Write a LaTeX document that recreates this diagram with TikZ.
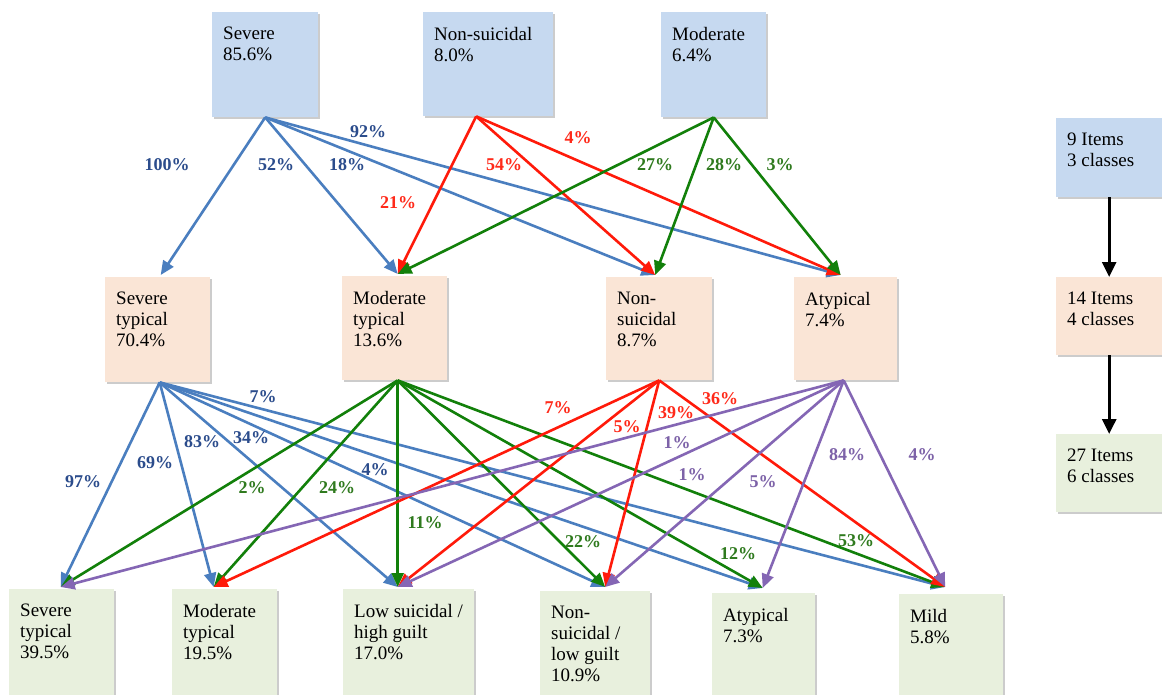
\documentclass[tikz,border=0pt]{standalone}
\usepackage{fontspec}
\setmainfont{Liberation Serif}
\usetikzlibrary{arrows.meta,shadows}
\definecolor{topfill}{HTML}{C6D9F0}
\definecolor{midfill}{HTML}{FAE5D6}
\definecolor{botfill}{HTML}{E8F0DD}
\definecolor{cblue}{HTML}{4A7EBF}
\definecolor{cred}{HTML}{FF1A0A}
\definecolor{cgreen}{HTML}{12800A}
\definecolor{cpurple}{HTML}{8466B4}
\definecolor{lblue}{HTML}{2B4C8C}
\definecolor{lred}{HTML}{FF2A1A}
\definecolor{lgreen}{HTML}{2F7A1E}
\definecolor{lpurple}{HTML}{7D62A8}
\newcommand\cbox[7]{%
  \node[box, fill=#2, minimum width=#5pt, minimum height=#6pt] (#1) at (#3,#4) {};
  \node[txt] (#1t) at ([xshift=11pt,yshift=-15pt]#1.north west) {#7};
}
\begin{document}
\begin{tikzpicture}[x=1pt,y=-1pt,
  box/.style={draw=none, inner sep=0, anchor=north west,
    drop shadow={shadow xshift=2pt, shadow yshift=-2pt, opacity=0.4}},
  txt/.style={inner sep=0, anchor=north west, align=left,
    font=\fontsize{19}{21}\selectfont},
  pct/.style={inner sep=0, font=\fontsize{18}{20}\selectfont\bfseries},
  link/.style={line width=2.6pt, -{Triangle[length=14pt,width=12pt]}},
  legarrow/.style={line width=2.8pt, black, -{Triangle[length=15pt,width=14pt]}}]
\fill[white] (0,0) rectangle (1162,695);
\useasboundingbox (0,0) rectangle (1162,695);

% top row
\cbox{T1}{topfill}{212}{12}{106}{105}{Severe\\85.6\%}
\cbox{T2}{topfill}{423}{12}{130}{104}{Non-suicidal\\8.0\%}
\cbox{T3}{topfill}{661}{12}{105}{105}{Moderate\\6.4\%}
% middle row
\cbox{M1}{midfill}{105}{277}{105}{105}{Severe\\typical\\70.4\%}
\cbox{M2}{midfill}{342}{276}{105}{104}{Moderate\\typical\\13.6\%}
\cbox{M3}{midfill}{606}{277}{106}{103}{Non-\\suicidal\\8.7\%}
\cbox{M4}{midfill}{794}{277}{103}{103}{Atypical\\7.4\%}
% bottom row
\cbox{B1}{botfill}{9}{589}{105}{120}{Severe\\typical\\39.5\%}
\cbox{B2}{botfill}{172}{589}{105}{120}{Moderate\\typical\\19.5\%}
\cbox{B3}{botfill}{343}{589}{131}{120}{Low suicidal /\\high guilt\\17.0\%}
\cbox{B4}{botfill}{540}{591}{110}{120}{Non-\\suicidal /\\low guilt\\10.9\%}
\cbox{B5}{botfill}{712}{593}{103}{120}{Atypical\\7.3\%}
\cbox{B6}{botfill}{899}{594}{104}{120}{Mild\\5.8\%}
% legend
\cbox{G1}{topfill}{1056}{118}{106}{79}{9 Items\\3 classes}
\cbox{G2}{midfill}{1056}{277}{106}{78}{14 Items\\4 classes}
\cbox{G3}{botfill}{1056}{434}{106}{78}{27 Items\\6 classes}
\draw[legarrow] (G1.south) -- (G2.north);
\draw[legarrow] (G2.south) -- (G3.north);

% connector end points
\coordinate (T1o) at (T1.south);
\coordinate (T2o) at ([xshift=-12pt]T2.south);
\coordinate (T3o) at (T3.south);
\coordinate (M1i) at ([xshift=3pt,yshift=2pt]M1.north);
\coordinate (M2i) at ([xshift=3pt,yshift=2pt]M2.north);
\coordinate (M3i) at ([xshift=-4pt,yshift=2pt]M3.north);
\coordinate (M4i) at ([xshift=-5pt,yshift=2pt]M4.north);
\coordinate (M1o) at ([xshift=2pt]M1.south);
\coordinate (M2o) at ([xshift=3pt]M2.south);
\coordinate (M3o) at (M3.south);
\coordinate (M4o) at ([xshift=-2pt]M4.south);
\coordinate (B1i) at ([xshift=-1pt,yshift=2pt]B1.north);
\coordinate (B2i) at ([xshift=-11pt,yshift=2pt]B2.north);
\coordinate (B3i) at ([xshift=-11pt,yshift=2pt]B3.north);
\coordinate (B4i) at ([xshift=10pt,yshift=4pt]B4.north);
\coordinate (B5i) at ([xshift=-1pt,yshift=5pt]B5.north);
\coordinate (B6i) at ([xshift=-6pt,yshift=7pt]B6.north);

% top -> middle
\foreach \t in {M1i,M2i,M3i,M4i} \draw[link,cblue] (T1o) -- (\t);
\foreach \t in {M2i,M3i,M4i} \draw[link,cred] (T2o) -- (\t);
\foreach \t in {M2i,M3i,M4i} \draw[link,cgreen] (T3o) -- (\t);
% middle -> bottom
\foreach \t in {B1i,B2i,B3i,B4i,B5i,B6i} \draw[link,cblue] (M1o) -- (\t);
\foreach \t in {B1i,B2i,B3i,B4i,B5i,B6i} \draw[link,cgreen] (M2o) -- (\t);
\foreach \t in {B2i,B3i,B4i,B6i} \draw[link,cred] (M3o) -- (\t);
\foreach \t in {B1i,B3i,B4i,B5i,B6i} \draw[link,cpurple] (M4o) -- (\t);

% labels top -> middle
\node[pct,text=lblue] (p1) at (167,165) {100\%};
\node[pct,text=lblue] (p2) at (276,165) {52\%};
\node[pct,text=lblue] (p3) at (347,165) {18\%};
\node[pct,text=lblue] (p4) at (368,132) {92\%};
\node[pct,text=lred] (p5) at (398,203) {21\%};
\node[pct,text=lred] (p6) at (504,165) {54\%};
\node[pct,text=lred] (p7) at (578,138) {4\%};
\node[pct,text=lgreen] (p8) at (655,165) {27\%};
\node[pct,text=lgreen] (p9) at (724,165) {28\%};
\node[pct,text=lgreen] (p10) at (780,165) {3\%};
% labels middle -> bottom
\node[pct,text=lblue] (q1) at (83,482) {97\%};
\node[pct,text=lblue] (q2) at (155,463) {69\%};
\node[pct,text=lblue] (q3) at (202,442) {83\%};
\node[pct,text=lblue] (q4) at (251,438) {34\%};
\node[pct,text=lblue] (q5) at (375,470) {4\%};
\node[pct,text=lblue] (q6) at (263,397) {7\%};
\node[pct,text=lgreen] (q7) at (252,488) {2\%};
\node[pct,text=lgreen] (q8) at (337,488) {24\%};
\node[pct,text=lgreen] (q9) at (425,523) {11\%};
\node[pct,text=lgreen] (q10) at (583,542) {22\%};
\node[pct,text=lgreen] (q11) at (738,554) {12\%};
\node[pct,text=lgreen] (q12) at (856,541) {53\%};
\node[pct,text=lred] (q13) at (558,408) {7\%};
\node[pct,text=lred] (q14) at (627,427) {5\%};
\node[pct,text=lred] (q15) at (676,413) {39\%};
\node[pct,text=lred] (q16) at (720,399) {36\%};
\node[pct,text=lpurple] (q17) at (677,443) {1\%};
\node[pct,text=lpurple] (q18) at (692,475) {1\%};
\node[pct,text=lpurple] (q19) at (763,482) {5\%};
\node[pct,text=lpurple] (q20) at (847,455) {84\%};
\node[pct,text=lpurple] (q21) at (922,455) {4\%};
\end{tikzpicture}
\end{document}
